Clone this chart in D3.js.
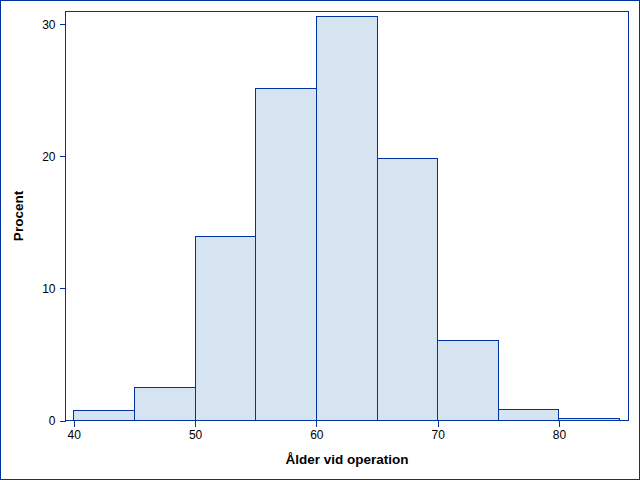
<!DOCTYPE html>
<html><head><meta charset="utf-8">
<script src="https://cdn.jsdelivr.net/npm/d3@7"></script>
<style>body{margin:0;background:#fff}svg{display:block}text{font-family:"Liberation Sans",Arial,sans-serif}</style>
</head><body><svg id="c" width="640" height="480"></svg>
<script>
const binStarts = [40,45,50,55,60,65,70,75,80];
const binWidth = 5;
const percents = [0.76,2.5,13.96,25.15,30.6,19.87,6.06,0.83,0.15];
const xTicks = [40,50,60,70,80];
const yTicks = [0,10,20,30];
const xTitle = "Ålder vid operation";
const yTitle = "Procent";

const svg = d3.select("#c");
const col = "#0033a0", fill = "#d6e3f1";
const L=65.5, T=11.5, R=628.5, B=420.5;
const x = d3.scaleLinear().domain([39.32,85.73]).range([L,R]);
const y = d3.scaleLinear().domain([0,30.98]).range([B,T]);
const px = v => Math.round(v-0.5)+0.5;

svg.append("rect").attr("x",0.5).attr("y",0.5).attr("width",639).attr("height",479)
  .attr("fill","#fff").attr("stroke",col).attr("shape-rendering","crispEdges");

svg.append("g").attr("shape-rendering","crispEdges").selectAll("rect").data(binStarts).join("rect")
  .attr("x",d=>px(x(d))).attr("y",(d,i)=>px(y(percents[i])))
  .attr("width",d=>px(x(d+binWidth))-px(x(d))).attr("height",(d,i)=>B-px(y(percents[i])))
  .attr("fill",fill).attr("stroke",col).attr("stroke-width",1);

svg.append("rect").attr("x",L).attr("y",T).attr("width",R-L).attr("height",B-T)
  .attr("fill","none").attr("stroke",col).attr("shape-rendering","crispEdges");

const xa = svg.append("g").attr("transform",`translate(0,${B})`)
  .call(d3.axisBottom(x).tickValues(xTicks).tickSize(6).tickPadding(4).tickFormat(d3.format("d")));
const ya = svg.append("g").attr("transform",`translate(${L},0)`)
  .call(d3.axisLeft(y).tickValues(yTicks).tickSize(6).tickPadding(4).tickFormat(d3.format("d")));
[xa,ya].forEach(a=>{
  a.select(".domain").remove();
  a.attr("shape-rendering","crispEdges");
  a.selectAll("line").attr("stroke",col);
  a.selectAll("text").attr("fill","#000").style("font-size","12px").style("font-family","'Liberation Sans',Arial,sans-serif");
});

svg.append("text").attr("x",(L+R)/2).attr("y",464).attr("text-anchor","middle")
  .style("font-size","13.5px").style("font-weight","bold").text(xTitle);
svg.append("text").attr("transform",`translate(23,${(T+B)/2}) rotate(-90)`).attr("text-anchor","middle")
  .style("font-size","13.5px").style("font-weight","bold").text(yTitle);
</script></body></html>
